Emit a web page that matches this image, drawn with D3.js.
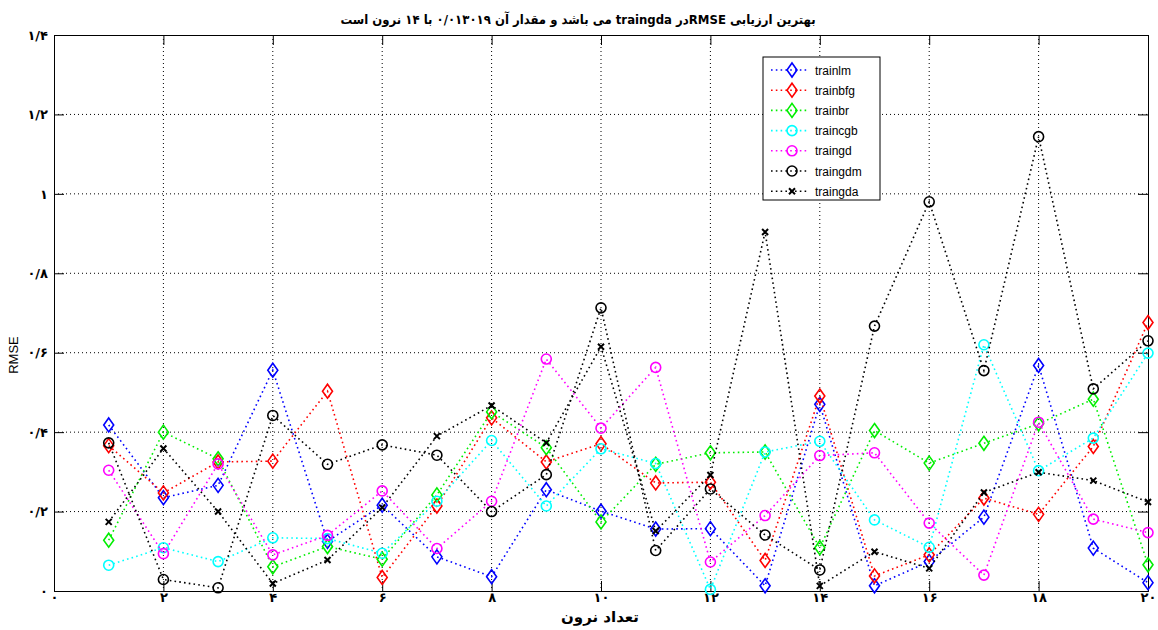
<!DOCTYPE html>
<html lang="fa">
<head>
  <meta charset="UTF-8">
  <title>RMSE</title>
  <style>
    body { margin: 0; background: #fff; }
  </style>
</head>
<body>
  <div id="svg"></div>
</body>
<script src="https://cdn.jsdelivr.net/npm/d3@7"></script>
<script type="text/javascript">
  // تعداد نرون
  const neurons = [1, 2, 3, 4, 5, 6, 7, 8, 9, 10, 11, 12, 13, 14, 15, 16, 17, 18, 19, 20]

  // RMSE values
  const trainlm  = [0.418, 0.235, 0.266, 0.556, 0.125, 0.216, 0.086, 0.036, 0.255, 0.201, 0.156, 0.157, 0.013, 0.470, 0.013, 0.074, 0.186, 0.568, 0.108, 0.021]
  const trainbfg = [0.366, 0.247, 0.325, 0.327, 0.503, 0.034, 0.214, 0.436, 0.325, 0.371, 0.272, 0.274, 0.077, 0.491, 0.038, 0.091, 0.234, 0.193, 0.364, 0.676]
  const trainbr  = [0.128, 0.400, 0.333, 0.061, 0.112, 0.080, 0.242, 0.451, 0.361, 0.174, 0.319, 0.348, 0.350, 0.109, 0.404, 0.322, 0.372, 0.421, 0.483, 0.066]
  const traincgb = [0.065, 0.109, 0.074, 0.134, 0.132, 0.095, 0.226, 0.379, 0.214, 0.358, 0.321, 0.004, 0.350, 0.377, 0.179, 0.110, 0.620, 0.303, 0.385, 0.599]
  const traingd  = [0.304, 0.094, 0.320, 0.091, 0.140, 0.252, 0.107, 0.226, 0.584, 0.410, 0.563, 0.073, 0.190, 0.341, 0.348, 0.171, 0.040, 0.425, 0.181, 0.147]
  const traingdm = [0.373, 0.029, 0.008, 0.442, 0.319, 0.368, 0.342, 0.200, 0.293, 0.713, 0.102, 0.257, 0.141, 0.053, 0.667, 0.980, 0.555, 1.144, 0.509, 0.630]
  const traingda = [0.174, 0.359, 0.200, 0.019, 0.078, 0.210, 0.390, 0.467, 0.373, 0.615, 0.151, 0.292, 0.904, 0.013, 0.099, 0.057, 0.248, 0.299, 0.278, 0.224]

  const seriesNames = ["trainlm", "trainbfg", "trainbr", "traincgb", "traingd", "traingdm", "traingda"]
  const seriesValues = [trainlm, trainbfg, trainbr, traincgb, traingd, traingdm, traingda]

  const xTicks = [0, 2, 4, 6, 8, 10, 12, 14, 16, 18, 20]
  const yTicks = [0, 0.2, 0.4, 0.6, 0.8, 1, 1.2, 1.4]

  const titleText = "بهترین ارزیابی RMSEدر traingda می باشد  و مقدار آن ۰/۰۱۳۰۱۹ با ۱۴ نرون است"
  const xLabel = "تعداد نرون"
  const yLabel = "RMSE"

  // style of each series
  const colors = ["#0000ff", "#ff0000", "#00ee00", "#00ffff", "#ff00ff", "#000000", "#000000"]
  const markers = ["diamond", "diamond", "diamond", "circle", "circle", "circle", "cross"]

  const width = 1158
  const height = 630
  const plot = {left: 54, right: 1148, top: 35, bottom: 591}

  const svg = d3.select("#svg").append("svg").attr("width", width).attr("height", height)

  const x = d3.scaleLinear().domain([0, 20]).range([plot.left, plot.right])
  const y = d3.scaleLinear().domain([0, 1.4]).range([plot.bottom, plot.top])

  // اعداد فارسی
  const fa = s => String(s).replace(/\d/g, c => "۰۱۲۳۴۵۶۷۸۹"[+c])
  const fmt = d => fa(String(+d.toFixed(1)).replace(".", "/"))

  // grid
  const grid = svg.append("g")
  grid.selectAll("line.gx").data(xTicks.slice(1, -1)).enter().append("line")
    .attr("x1", d => x(d)).attr("x2", d => x(d))
    .attr("y1", plot.top).attr("y2", plot.bottom)
    .attr("stroke", "#000").attr("stroke-width", 1).attr("stroke-dasharray", "1,3")
  grid.selectAll("line.gy").data(yTicks.slice(1, -1)).enter().append("line")
    .attr("y1", d => y(d)).attr("y2", d => y(d))
    .attr("x1", plot.left).attr("x2", plot.right)
    .attr("stroke", "#000").attr("stroke-width", 1).attr("stroke-dasharray", "1,3")

  // axes, ticks inside like matlab
  const tl = 10
  svg.append("g").attr("transform", `translate(0,${plot.bottom})`)
    .call(d3.axisBottom(x).tickValues(xTicks).tickSize(-tl).tickPadding(2).tickFormat(fmt))
  svg.append("g").attr("transform", `translate(0,${plot.top})`)
    .call(d3.axisTop(x).tickValues(xTicks).tickSize(-tl).tickFormat(""))
  svg.append("g").attr("transform", `translate(${plot.left},0)`)
    .call(d3.axisLeft(y).tickValues(yTicks).tickSize(-tl).tickPadding(6).tickFormat(fmt))
  svg.append("g").attr("transform", `translate(${plot.right},0)`)
    .call(d3.axisRight(y).tickValues(yTicks).tickSize(-tl).tickFormat(""))

  svg.selectAll(".domain").attr("stroke", "#000").attr("stroke-width", 1)
  svg.selectAll(".tick line").attr("stroke", "#000")
  svg.selectAll(".tick text")
    .attr("font-family", "DejaVu Sans").attr("font-size", 13).attr("font-weight", "bold")
    .attr("fill", "#000").attr("direction", "ltr")

  // series
  const line = d3.line().x((d, i) => x(neurons[i])).y(d => y(d))

  const drawMarker = (g, type, color) => {
    if (type === "diamond") {
      g.append("path").attr("d", "M0,-7L5,0L0,7L-5,0Z")
        .attr("fill", "none").attr("stroke", color).attr("stroke-width", 1.6)
    } else if (type === "circle") {
      g.append("circle").attr("r", 5)
        .attr("fill", "none").attr("stroke", color).attr("stroke-width", 1.6)
    } else {
      g.append("path").attr("d", "M-3,-3L3,3M-3,3L3,-3")
        .attr("stroke", color).attr("stroke-width", 2)
    }
  }

  seriesValues.forEach((vals, s) => {
    const g = svg.append("g")
    g.append("path").datum(vals).attr("d", line)
      .attr("fill", "none").attr("stroke", colors[s]).attr("stroke-width", 1.6)
      .attr("stroke-dasharray", "1.6,3.2")
    g.selectAll("g.m").data(vals).enter().append("g")
      .attr("transform", (d, i) => `translate(${x(neurons[i])},${y(d)})`)
      .each(function() { drawMarker(d3.select(this), markers[s], colors[s]) })
  })

  // legend
  const lg = svg.append("g").attr("transform", "translate(763,57)")
  lg.append("rect").attr("width", 117).attr("height", 143)
    .attr("fill", "#fff").attr("stroke", "#000").attr("stroke-width", 1)
  seriesNames.forEach((name, s) => {
    const row = lg.append("g").attr("transform", `translate(0,${13 + s * 20.2})`)
    row.append("line").attr("x1", 8).attr("x2", 46).attr("y1", 0).attr("y2", 0)
      .attr("stroke", colors[s]).attr("stroke-width", 1.6).attr("stroke-dasharray", "1.6,3.2")
    drawMarker(row.append("g").attr("transform", "translate(29,0)"), markers[s], colors[s])
    row.append("text").attr("x", 52).attr("y", 4.5).text(name)
      .attr("font-family", "Liberation Sans, Arial").attr("font-size", 12).attr("fill", "#000")
  })

  // title and labels
  svg.append("text").attr("x", 578).attr("y", 24).attr("text-anchor", "middle")
    .attr("direction", "rtl").attr("unicode-bidi", "embed")
    .attr("font-family", "DejaVu Sans Condensed, DejaVu Sans").attr("font-size", 13).attr("font-weight", "bold")
    .text(titleText)
  svg.append("text").attr("x", 600).attr("y", 622).attr("text-anchor", "middle")
    .attr("direction", "rtl")
    .attr("font-family", "DejaVu Sans").attr("font-size", 15).attr("font-weight", "bold")
    .text(xLabel)
  svg.append("text").attr("transform", "translate(18,355) rotate(-90)").attr("text-anchor", "middle")
    .attr("font-family", "Liberation Sans, Arial").attr("font-size", 13)
    .text(yLabel)
</script>
</html>
